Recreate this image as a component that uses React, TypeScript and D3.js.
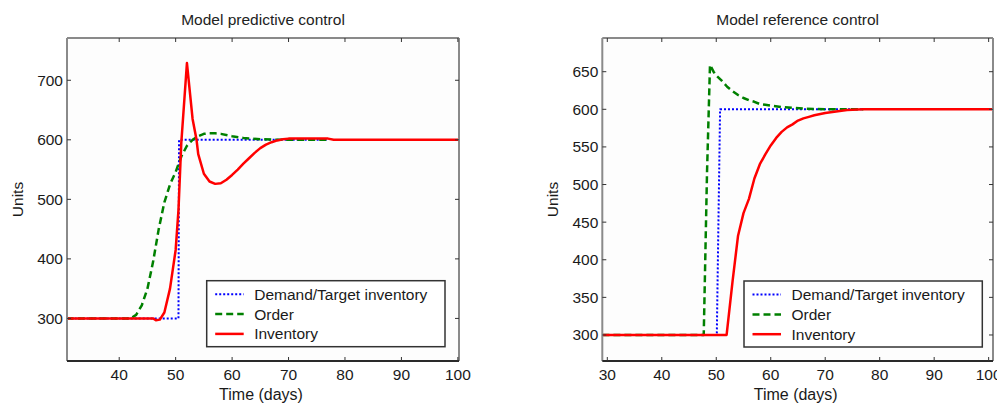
import React from "react";
import * as d3 from "d3";

// ---------- data ----------
const legendLabels = ["Demand/Target inventory", "Order", "Inventory"];

const leftXTicks = [40, 50, 60, 70, 80, 90, 100];
const leftYTicks = [300, 400, 500, 600, 700];
const leftDemandT = [30.7, 50.5, 50.6, 77];
const leftDemandV = [300, 300, 600, 600];
const leftOrderT = [30.7, 42, 43, 44, 45, 46, 47, 48, 49, 50, 51, 52, 53, 54, 55, 56, 57, 58, 60, 62, 65, 68, 77];
const leftOrderV = [300, 300, 306, 322, 350, 395, 450, 495, 525, 546, 572, 590, 600, 606, 610, 611, 611, 610, 606, 603, 601, 600, 600];
const leftInvT = [30.7, 46, 46.5, 47.2, 48, 49, 50, 50.5, 51, 52, 53, 53.7, 54, 55, 56, 57, 58, 59, 60, 61, 62, 63, 64, 65, 66, 67, 68, 69, 70, 77, 78, 100.2];
const leftInvV = [300, 300, 297, 298, 310, 350, 415, 482, 595, 729, 635, 600, 576, 543, 530, 526, 527, 533, 541, 550, 560, 569, 578, 586, 592, 596, 599, 601, 602, 602, 600, 600];

const rightXTicks = [30, 40, 50, 60, 70, 80, 90, 100];
const rightYTicks = [300, 350, 400, 450, 500, 550, 600, 650];
const rightDemandT = [29.1, 50.1, 50.7, 77];
const rightDemandV = [300, 300, 600, 600];
const rightOrderT = [29.1, 47.7, 48.3, 48.85, 49.5, 50, 51, 52, 53, 54, 55, 56, 57, 58, 59, 60, 62, 64, 66, 70, 77];
const rightOrderV = [300, 300, 515, 659, 650, 645, 638, 630, 624, 619, 615, 612, 610, 607, 606, 605, 603, 602, 601, 600, 600];
const rightInvT = [29.1, 51.9, 53, 54, 55, 56, 57, 58, 59, 60, 61, 62, 63, 64, 65, 66, 67, 68, 70, 72, 74, 77, 100.8];
const rightInvV = [300, 300, 372, 432, 462, 481, 508, 527, 540, 552, 562, 570, 576, 580, 585, 588, 590, 592, 595, 597, 599, 600, 600];

// ---------- styles ----------
const FONT = "'Liberation Sans', Arial, Helvetica, sans-serif";
const seriesStyles = [
  { color: "#0000ff", width: 2, dash: "2,2" },
  { color: "#008000", width: 2.5, dash: "7,4" },
  { color: "#ff0000", width: 2.5, dash: "" },
];

type PanelProps = {
  title: string;
  left: number;
  right: number;
  top: number;
  bottom: number;
  xDomain: [number, number];
  yDomain: [number, number];
  xTicks: number[];
  yTicks: number[];
  series: { t: number[]; v: number[] }[];
  legendX: number;
  legendW: number;
  legendY: number;
  ylabelX: number;
};

function Panel(p: PanelProps) {
  const x = d3.scaleLinear().domain(p.xDomain).range([p.left, p.right]);
  const y = d3.scaleLinear().domain(p.yDomain).range([p.bottom, p.top]);
  const cx = (p.left + p.right) / 2;
  const cy = (p.top + p.bottom) / 2;
  const clipId = "clip" + p.left;
  const tl = 4;
  const rowH = 19.8;
  return (
    <g>
      <defs>
        <clipPath id={clipId}>
          <rect x={p.left} y={p.top} width={p.right - p.left} height={p.bottom - p.top} />
        </clipPath>
      </defs>
      <rect x={p.left} y={p.top} width={p.right - p.left} height={p.bottom - p.top} fill="#fdfdfd" />
      <g clipPath={`url(#${clipId})`}>
        {p.series.map((s, i) => {
          const pts = s.t.map((t, k) => [t, s.v[k]] as [number, number]);
          const line = d3
            .line<[number, number]>()
            .x((d) => x(d[0]))
            .y((d) => y(d[1]));
          const st = seriesStyles[i];
          return (
            <path
              key={i}
              d={line(pts) || ""}
              fill="none"
              stroke={st.color}
              strokeWidth={st.width}
              strokeDasharray={st.dash || undefined}
              strokeLinejoin="round"
            />
          );
        })}
      </g>
      {/* axes frame */}
      <line x1={p.left} x2={p.left} y1={p.top} y2={p.bottom} stroke="#8a8a8a" strokeWidth={2} />
      <line x1={p.right} x2={p.right} y1={p.top} y2={p.bottom} stroke="#8a8a8a" strokeWidth={2} />
      <line x1={p.left} x2={p.right} y1={p.top} y2={p.top} stroke="#8a8a8a" strokeWidth={2} />
      <line x1={p.left} x2={p.right} y1={p.bottom} y2={p.bottom} stroke="#2a2a2a" strokeWidth={2} />
      {/* ticks */}
      {p.xTicks.map((t) => (
        <g key={"x" + t}>
          <line x1={x(t)} x2={x(t)} y1={p.bottom} y2={p.bottom - tl} stroke="#333" strokeWidth={1} />
          <line x1={x(t)} x2={x(t)} y1={p.top} y2={p.top + tl} stroke="#333" strokeWidth={1} />
          <text x={x(t)} y={p.bottom + 19} textAnchor="middle" fontFamily={FONT} fontSize={15.5} fill="#1a1a1a">
            {t}
          </text>
        </g>
      ))}
      {p.yTicks.map((t) => (
        <g key={"y" + t}>
          <line x1={p.left} x2={p.left + tl} y1={y(t)} y2={y(t)} stroke="#333" strokeWidth={1} />
          <line x1={p.right} x2={p.right - tl} y1={y(t)} y2={y(t)} stroke="#333" strokeWidth={1} />
          <text x={p.left - 4} y={y(t) + 5.5} textAnchor="end" fontFamily={FONT} fontSize={15.5} fill="#1a1a1a">
            {t}
          </text>
        </g>
      ))}
      {/* labels */}
      <text x={cx} y={25} textAnchor="middle" fontFamily={FONT} fontSize={15.5} fill="#222">
        {p.title}
      </text>
      <text x={cx - 2} y={400} textAnchor="middle" fontFamily={FONT} fontSize={16} fill="#1a1a1a">
        Time (days)
      </text>
      <text
        transform={`translate(${p.ylabelX},${cy}) rotate(-90)`}
        textAnchor="middle"
        fontFamily={FONT}
        fontSize={15.5}
        fill="#1a1a1a"
      >
        Units
      </text>
      {/* legend */}
      <rect x={p.legendX} y={p.legendY} width={p.legendW} height={66} fill="#ffffff" stroke="#333" strokeWidth={1.5} />
      {legendLabels.map((lab, i) => {
        const ry = p.legendY + 13.6 + i * rowH;
        const st = seriesStyles[i];
        return (
          <g key={lab}>
            <line
              x1={p.legendX + 8.5}
              x2={p.legendX + 37}
              y1={ry}
              y2={ry}
              stroke={st.color}
              strokeWidth={st.width}
              strokeDasharray={st.dash || undefined}
            />
            <text x={p.legendX + 47.5} y={ry + 5.5} fontFamily={FONT} fontSize={15.5} fill="#1a1a1a">
              {lab}
            </text>
          </g>
        );
      })}
    </g>
  );
}

export default function App() {
  return (
    <svg
      width={997}
      height={405}
      style={{ position: "absolute", left: 0, top: 0, background: "#ffffff" }}
    >
      <rect width={997} height={405} fill="#ffffff" />
      <Panel
        title="Model predictive control"
        left={67}
        right={459}
        top={38}
        bottom={361}
        xDomain={[30.75, 100.2]}
        yDomain={[228.5, 771]}
        xTicks={leftXTicks}
        yTicks={leftYTicks}
        series={[
          { t: leftDemandT, v: leftDemandV },
          { t: leftOrderT, v: leftOrderV },
          { t: leftInvT, v: leftInvV },
        ]}
        legendX={206.7}
        legendW={238.3}
        legendY={280.7}
        ylabelX={23}
      />
      <Panel
        title="Model reference control"
        left={602.3}
        right={993}
        top={38}
        bottom={361}
        xDomain={[29.08, 100.8]}
        yDomain={[265.4, 694.8]}
        xTicks={rightXTicks}
        yTicks={rightYTicks}
        series={[
          { t: rightDemandT, v: rightDemandV },
          { t: rightOrderT, v: rightOrderV },
          { t: rightInvT, v: rightInvV },
        ]}
        legendX={744}
        legendW={238.3}
        legendY={281}
        ylabelX={557.5}
      />
    </svg>
  );
}
